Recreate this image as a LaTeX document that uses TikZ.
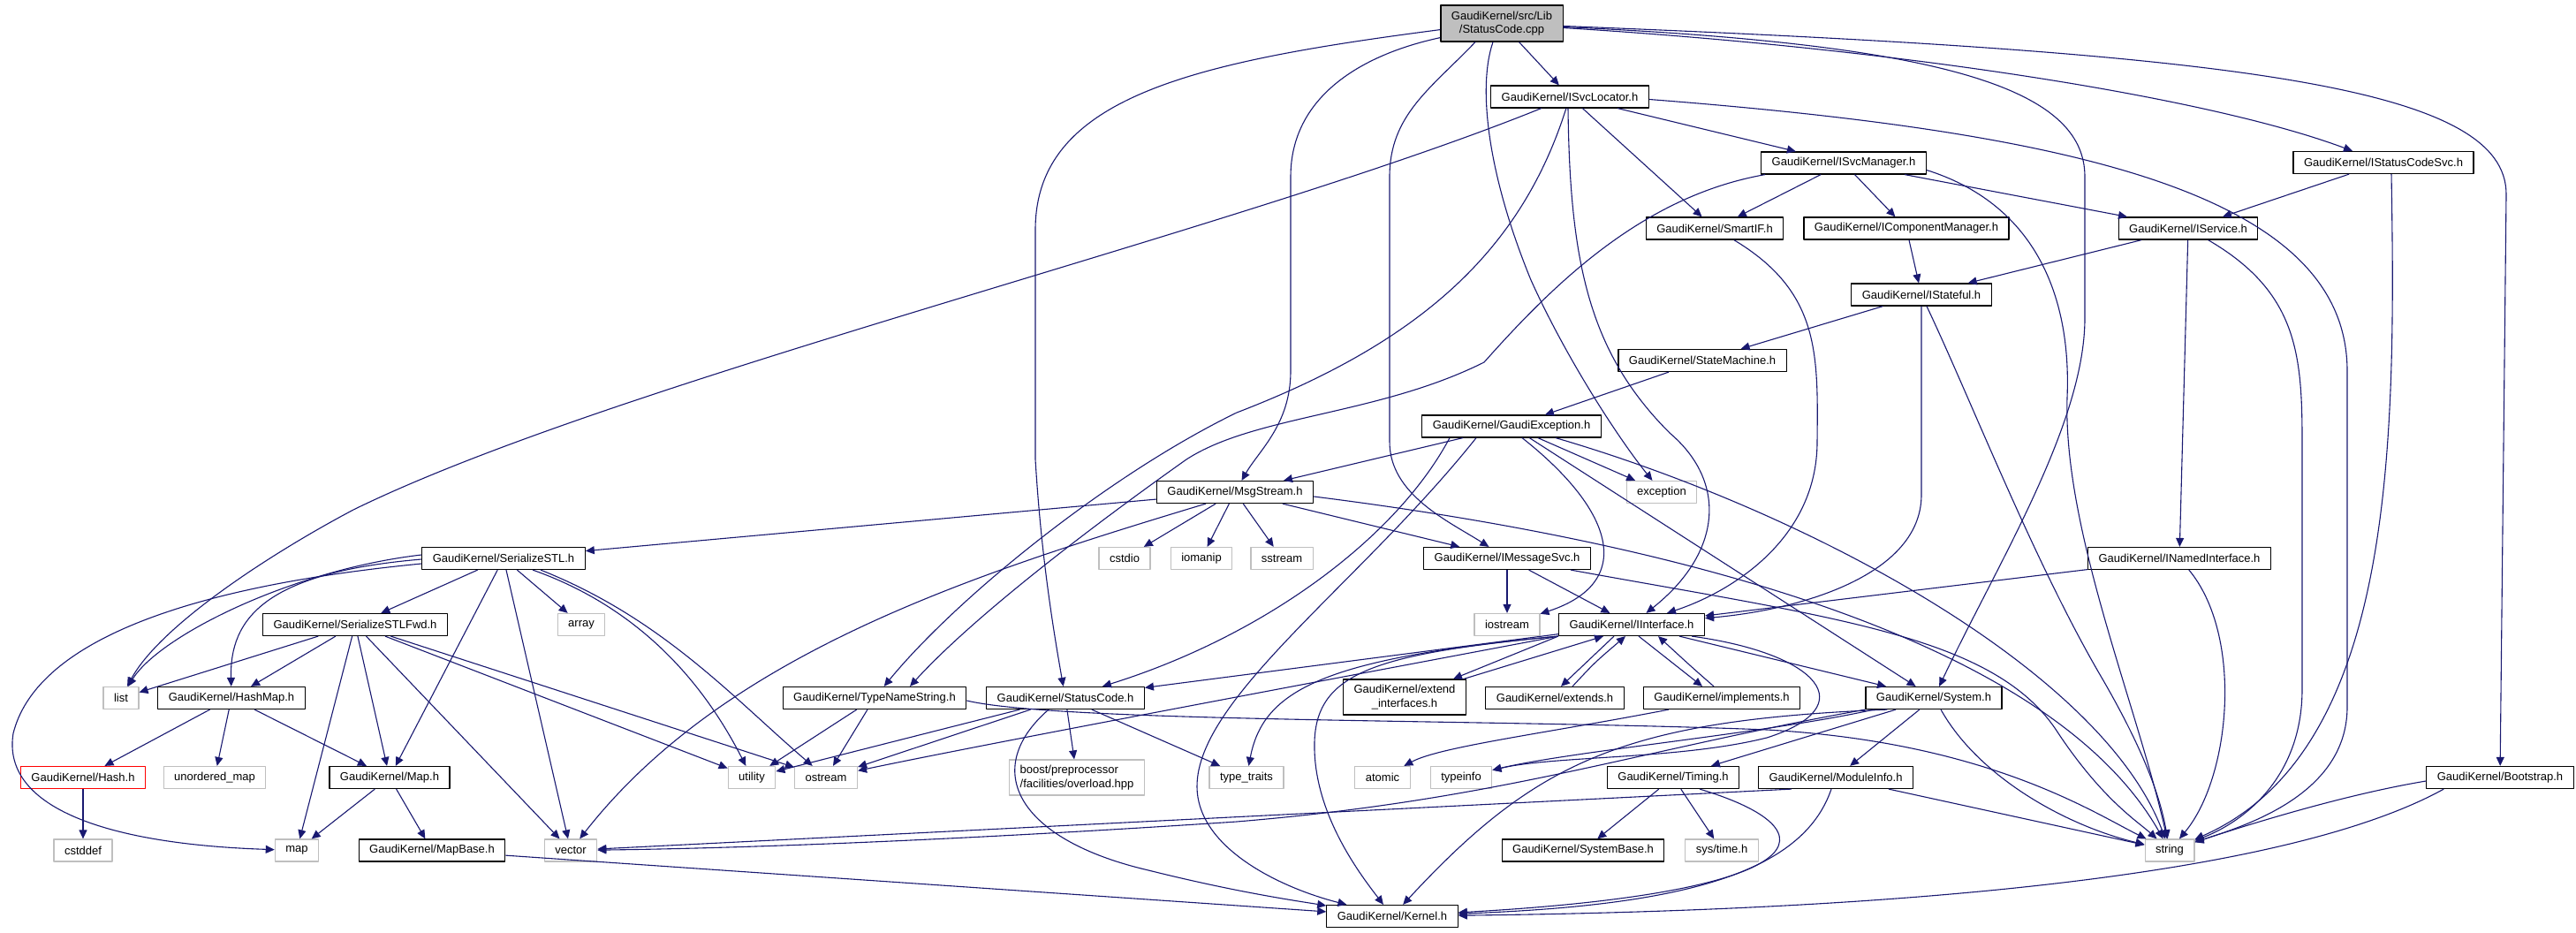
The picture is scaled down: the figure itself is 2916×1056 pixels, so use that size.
\documentclass[tikz,border=0pt]{standalone}
\usepackage{fontspec}
\setmainfont{Liberation Sans}
\usetikzlibrary{arrows.meta}
\definecolor{edgeblue}{HTML}{191970}
\definecolor{sysgray}{HTML}{BFBFBF}
\newcommand{\hfont}{\fontsize{13}{15.5}\selectfont}
\begin{document}
\begin{tikzpicture}[x=1pt, y=-1pt, line join=round]
	\tikzset{hdr/.style={draw=black, line width=1.2pt, fill=white, inner xsep=12pt, inner ysep=0pt, minimum height=25pt, font=\hfont},
		sys/.style={hdr, draw=sysgray},
		incl/.style={draw=edgeblue, line width=1.1pt, -{Triangle[length=10pt,width=9pt]}}}
	\useasboundingbox (0,0) rectangle (2916,1056);
	\node[hdr, fill=sysgray, align=center, minimum height=41pt] (cpp) at (1700,26.5) {GaudiKernel/src/Lib\\/StatusCode.cpp};
	\node[hdr] (svclocator) at (1777,109.5) {GaudiKernel/ISvcLocator.h};
	\node[hdr] (svcmanager) at (2087,184.5) {GaudiKernel/ISvcManager.h};
	\node[hdr] (statuscodesvc) at (2698,184) {GaudiKernel/IStatusCodeSvc.h};
	\node[hdr] (smartif) at (1941,258.5) {GaudiKernel/SmartIF.h};
	\node[hdr] (compmanager) at (2158,258.5) {GaudiKernel/IComponentManager.h};
	\node[hdr] (iservice) at (2477,258.5) {GaudiKernel/IService.h};
	\node[hdr] (istateful) at (2175,333.5) {GaudiKernel/IStateful.h};
	\node[hdr] (statemachine) at (1927,408) {GaudiKernel/StateMachine.h};
	\node[hdr] (gaudiexc) at (1711,482.5) {GaudiKernel/GaudiException.h};
	\node[hdr] (msgstream) at (1398,557) {GaudiKernel/MsgStream.h};
	\node[sys] (exception) at (1881,557) {exception};
	\node[hdr] (serstl) at (570,632) {GaudiKernel/SerializeSTL.h};
	\node[sys] (cstdio) at (1273,632) {cstdio};
	\node[sys] (iomanip) at (1360,632) {iomanip};
	\node[sys] (sstream) at (1451,632) {sstream};
	\node[hdr] (imsgsvc) at (1706,632) {GaudiKernel/IMessageSvc.h};
	\node[hdr] (inamedif) at (2467,632) {GaudiKernel/INamedInterface.h};
	\node[hdr] (serfwd) at (402,707) {GaudiKernel/SerializeSTLFwd.h};
	\node[sys] (array) at (658,707) {array};
	\node[sys] (iostream) at (1706,707) {iostream};
	\node[hdr] (iinterface) at (1847,707) {GaudiKernel/IInterface.h};
	\node[sys] (list) at (137,790) {list};
	\node[hdr] (hashmap) at (262,790) {GaudiKernel/HashMap.h};
	\node[hdr] (typename) at (990,790) {GaudiKernel/TypeNameString.h};
	\node[hdr] (statush) at (1206,790) {GaudiKernel/StatusCode.h};
	\node[hdr, align=center, minimum height=40pt] (extendif) at (1590,789) {GaudiKernel/extend\\\_interfaces.h};
	\node[hdr] (extends) at (1760,790) {GaudiKernel/extends.h};
	\node[hdr] (implements) at (1949,790) {GaudiKernel/implements.h};
	\node[hdr] (system) at (2189,790) {GaudiKernel/System.h};
	\node[hdr, draw=red] (hash) at (94,880) {GaudiKernel/Hash.h};
	\node[sys] (umap) at (243,880) {unordered\_map};
	\node[hdr] (maph) at (441,880) {GaudiKernel/Map.h};
	\node[sys] (utility) at (851,880) {utility};
	\node[sys] (ostream) at (935,880) {ostream};
	\node[sys, align=left, minimum height=40pt] (boost) at (1219,880) {boost/preprocessor\\/facilities/overload.hpp};
	\node[sys] (typetraits) at (1411,880) {type\_traits};
	\node[sys] (atomic) at (1565,880) {atomic};
	\node[sys] (typeinfo) at (1654,880) {typeinfo};
	\node[hdr] (timing) at (1894,880) {GaudiKernel/Timing.h};
	\node[hdr] (moduleinfo) at (2078,880) {GaudiKernel/ModuleInfo.h};
	\node[hdr] (bootstrap) at (2830,880) {GaudiKernel/Bootstrap.h};
	\node[sys] (cstddef) at (94,962.5) {cstddef};
	\node[sys] (map) at (336,962.5) {map};
	\node[hdr] (mapbase) at (489,962.5) {GaudiKernel/MapBase.h};
	\node[sys] (vector) at (646,962.5) {vector};
	\node[hdr] (sysbase) at (1792,962.5) {GaudiKernel/SystemBase.h};
	\node[sys] (systime) at (1949,962.5) {sys/time.h};
	\node[sys] (string) at (2456,962.5) {string};
	\node[hdr] (kernel) at (1576,1037) {GaudiKernel/Kernel.h};
	\foreach \a/\b in {cpp/svclocator, svclocator/svcmanager, svclocator/smartif, svcmanager/smartif, svcmanager/compmanager,
		svcmanager/iservice, statuscodesvc/iservice, compmanager/istateful, iservice/istateful, iservice/inamedif,
		istateful/statemachine, statemachine/gaudiexc, gaudiexc/msgstream, gaudiexc/exception, gaudiexc/system,
		msgstream/serstl, msgstream/cstdio, msgstream/iomanip, msgstream/sstream, msgstream/imsgsvc,
		imsgsvc/iostream, imsgsvc/iinterface, inamedif/iinterface, serstl/serfwd, serstl/maph, serstl/vector, serstl/array,
		serfwd/list, serfwd/hashmap, serfwd/maph, serfwd/map, serfwd/vector, serfwd/utility, serfwd/ostream,
		hashmap/hash, hashmap/umap, hashmap/maph, hash/cstddef, maph/map, maph/mapbase, mapbase/kernel,
		typename/utility, typename/ostream, statush/utility, statush/ostream, statush/boost, statush/typetraits,
		iinterface/statush, iinterface/system, system/timing, system/moduleinfo, timing/sysbase, timing/systime, moduleinfo/string}
	\draw[incl] (\a) -- (\b);
	\draw[incl] ([yshift=5pt]cpp.south west) .. controls (1540,62) and (1461,110) .. (1461,200) -- (1461,420) .. controls (1461,480) and (1425,510) .. (msgstream);
	\draw[incl] ([yshift=14pt]cpp.south west) .. controls (1350,70) and (1172,110) .. (1172,260) -- (1172,520) .. controls (1178,620) and (1190,700) .. (statush);
	\draw[incl] ([xshift=-30pt]cpp.south) .. controls (1620,100) and (1573,130) .. (1573,200) -- (1573,500) .. controls (1573,560) and (1640,590) .. (imsgsvc);
	\draw[incl] ([xshift=-10pt]cpp.south) .. controls (1672,100) and (1685,200) .. (1733,317) .. controls (1775,410) and (1835,500) .. (exception);
	\draw[incl] ([yshift=-4pt]cpp.east) .. controls (2200,50) and (2360,100) .. (2360,200) -- (2360,360) .. controls (2360,480) and (2260,640) .. (system);
	\draw[incl] ([yshift=-5pt]cpp.east) .. controls (2150,55) and (2500,110) .. (statuscodesvc);
	\draw[incl] ([yshift=-3pt]cpp.east) .. controls (2550,60) and (2837,100) .. (2837,220) -- (bootstrap);
	\draw[incl] ([xshift=-2pt]svclocator.south) .. controls (1777,300) and (1800,400) .. (1890,490) .. controls (1955,545) and (1950,625) .. (iinterface);
	\draw[incl] (svclocator) .. controls (1720,290) and (1600,390) .. (1400,467) .. controls (1250,540) and (1080,680) .. (typename);
	\draw[incl] (svclocator) .. controls (1400,262) and (700,430) .. (400,577) .. controls (300,630) and (180,710) .. (list);
	\draw[incl] ([yshift=-3pt]svclocator.east) .. controls (2350,150) and (2657,220) .. (2657,420) -- (2657,800) .. controls (2657,900) and (2540,935) .. (string);
	\draw[incl] ([xshift=5pt]svcmanager.south west) .. controls (1860,222) and (1760,320) .. (1680,410) .. controls (1560,470) and (1420,470) .. (1343,520) .. controls (1230,600) and (1100,700) .. ([xshift=40pt]typename.north);
	\draw[incl] ([yshift=-8pt]svcmanager.east) .. controls (2300,230) and (2345,330) .. (2340,450) .. controls (2335,600) and (2420,800) .. (string);
	\draw[incl] ([xshift=9pt]statuscodesvc.south) .. controls (2712,500) and (2712,850) .. (string);
	\draw[incl] (iservice) .. controls (2600,330) and (2606,400) .. (2606,500) -- (2606,780) .. controls (2606,880) and (2540,930) .. (string);
	\draw[incl] (inamedif) .. controls (2540,720) and (2525,880) .. (string);
	\draw[incl] (istateful.south) -- (2175,560) .. controls (2175,650) and (2040,690) .. (iinterface);
	\draw[incl] ([xshift=6pt]istateful.south) .. controls (2230,450) and (2300,630) .. (2375,760) .. controls (2425,845) and (2445,900) .. (string);
	\draw[incl] (smartif) .. controls (2060,330) and (2058,400) .. (2057,500) .. controls (2057,610) and (1960,670) .. (iinterface);
	\draw[incl] ([xshift=-70pt]gaudiexc.south) .. controls (1580,610) and (1430,720) .. (statush);
	\draw[incl] ([xshift=-40pt]gaudiexc.south) .. controls (1540,660) and (1355,790) .. (1355,890) .. controls (1355,960) and (1450,1005) .. (kernel);
	\draw[incl] ([xshift=12pt]gaudiexc.south) .. controls (1830,580) and (1850,660) .. (iostream);
	\draw[incl] ([xshift=50pt]gaudiexc.south) .. controls (2050,580) and (2380,760) .. (string);
	\draw[incl] ([yshift=-5pt]msgstream.east) .. controls (1950,620) and (2330,740) .. (string);
	\draw[incl] ([xshift=-33pt]msgstream.south) .. controls (1100,650) and (820,740) .. (vector);
	\draw[incl] (imsgsvc) .. controls (2080,700) and (2260,720) .. (2330,830) .. controls (2380,905) and (2420,930) .. (string);
	\draw[incl] ([xshift=33pt]serstl.south) .. controls (730,690) and (800,780) .. (utility);
	\draw[incl] ([xshift=42pt]serstl.south) .. controls (750,700) and (830,790) .. (ostream);
	\draw[incl] ([yshift=4pt]serstl.west) .. controls (330,645) and (180,720) .. (list);
	\draw[incl] ([yshift=-1pt]serstl.west) .. controls (300,648) and (260,700) .. (hashmap);
	\draw[incl] ([yshift=-6pt]serstl.west) .. controls (200,665) and (40,730) .. (15,830) .. controls (2,910) and (110,955) .. (map);
	\draw[incl] ([yshift=-3pt]typename.east) .. controls (1200,818) and (1700,814) .. (2000,826) .. controls (2250,840) and (2370,920) .. (string);
	\draw[incl] ([xshift=-19pt]statush.south) .. controls (1110,870) and (1150,950) .. (1300,985) .. controls (1400,1010) and (1470,1020) .. (kernel);
	\draw[incl] (iinterface.south west) .. controls (1500,770) and (1100,845) .. (ostream);
	\draw[incl] (iinterface.south west) .. controls (1500,745) and (1430,780) .. (typetraits);
	\draw[incl] (iinterface.south west) .. controls (1560,740) and (1490,760) .. (1488,840) .. controls (1486,920) and (1540,990) .. (kernel);
	\draw[incl] ([xshift=-15pt]iinterface.south east) .. controls (2060,740) and (2110,800) .. (2000,835) .. controls (1900,860) and (1760,855) .. (typeinfo);
	\draw[incl] (iinterface.south west) -- ([xshift=55pt]extendif.north);
	\draw[incl] ([xshift=67pt]extendif.north) -- ([xshift=-32pt]iinterface.south);
	\draw[incl] ([xshift=-20pt]iinterface.south) -- ([xshift=7pt]extends.north);
	\draw[incl] ([xshift=20pt]extends.north) .. controls (1805,750) .. ([xshift=-7pt]iinterface.south);
	\draw[incl] ([xshift=8pt]iinterface.south) -- ([xshift=-22pt]implements.north);
	\draw[incl] ([xshift=-9pt]implements.north) .. controls (1915,755) .. ([xshift=30pt]iinterface.south);
	\draw[incl] ([xshift=-60pt]implements.south) .. controls (1750,830) and (1630,845) .. (atomic);
	\draw[incl] ([xshift=8pt]system.south) .. controls (2240,880) and (2340,935) .. (string);
	\draw[incl] ([xshift=10pt]system.south west) .. controls (2000,830) and (1780,850) .. (typeinfo);
	\draw[incl] (system.south west) .. controls (1850,850) and (1700,905) .. (1400,930) .. controls (1100,950) and (850,960) .. (vector);
	\draw[incl] ([xshift=25pt]system.south west) .. controls (1840,815) and (1740,860) .. (kernel);
	\draw[incl] ([xshift=30pt]timing.south) .. controls (2080,940) and (2060,1010) .. (kernel);
	\draw[incl] ([xshift=-5pt]moduleinfo.south) .. controls (2040,990) and (1900,1025) .. (kernel);
	\draw[incl] ([xshift=38pt]moduleinfo.south west) -- (vector);
	\draw[incl] ([yshift=-4pt]bootstrap.west) .. controls (2650,900) and (2540,935) .. (string);
	\draw[incl] ([xshift=20pt]bootstrap.south west) .. controls (2600,985) and (2200,1030) .. (kernel);
\end{tikzpicture}
\end{document}
